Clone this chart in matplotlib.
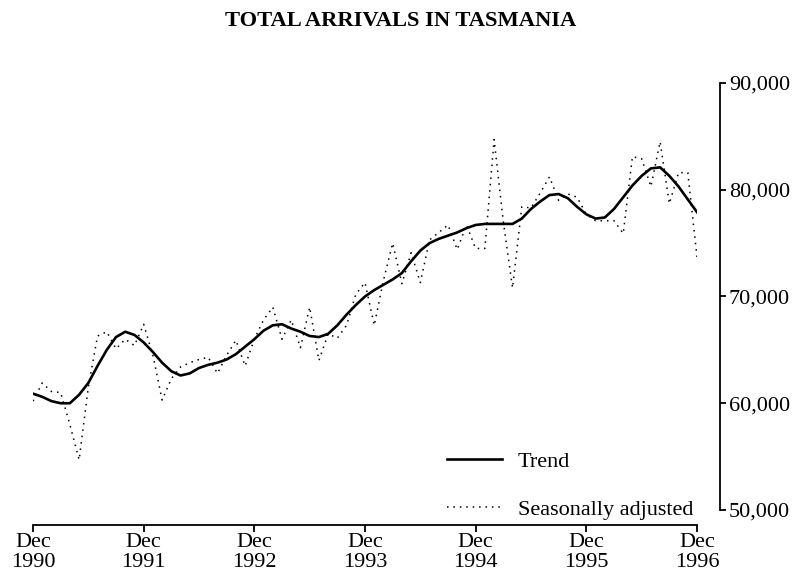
import matplotlib
matplotlib.use("Agg")
import matplotlib.pyplot as plt
import numpy as np

# Monthly data, Dec 1990 .. Dec 1996 (73 months)
months = np.arange(73)

trend = [
    60900, 60600, 60200, 60000, 60000, 60800, 61900, 63500, 65000, 66200,
    66700, 66400, 65700, 64800, 63800, 63000, 62600, 62800, 63300, 63600,
    63800, 64100, 64600, 65300, 66000, 66800, 67300, 67400, 67000, 66700,
    66300, 66200, 66500, 67300, 68300, 69200, 70000, 70600, 71100, 71600,
    72200, 73300, 74300, 75000, 75400, 75700, 76000, 76400, 76700, 76800,
    76800, 76800, 76800, 77300, 78200, 78900, 79500, 79600, 79200, 78400,
    77700, 77300, 77400, 78200, 79300, 80400, 81300, 82000, 82100, 81300,
    80300, 79100, 77900,
]

seas_adj = [
    60200, 61900, 61100, 61000, 58000, 54700, 61500, 66300, 66700, 65100,
    66000, 65400, 67400, 64500, 60300, 62300, 63400, 63800, 64100, 64300,
    62800, 64500, 65900, 63500, 66000, 67800, 69000, 66000, 67800, 65200,
    69000, 64000, 66500, 66100, 67300, 70200, 71300, 67300, 71500, 75000,
    71200, 74100, 71300, 75300, 76000, 76700, 74400, 76700, 74500, 74500,
    84700, 77000, 70800, 78400, 78300, 79700, 81200, 79000, 79600, 79300,
    77700, 77100, 77100, 77100, 75900, 83100, 82900, 80300, 84500, 78700,
    81600, 81600, 73700,
]

xtick_pos = [0, 12, 24, 36, 48, 60, 72]
xtick_labels = ["Dec\n1990", "Dec\n1991", "Dec\n1992", "Dec\n1993",
                "Dec\n1994", "Dec\n1995", "Dec\n1996"]
ytick_vals = [50000, 60000, 70000, 80000, 90000]
ytick_labels = ["50,000", "60,000", "70,000", "80,000", "90,000"]

plt.rcParams['font.family'] = ['Liberation Serif', 'DejaVu Serif']

W, H = 802, 585
PX = 0.72  # points per pixel at 100 dpi
fig = plt.figure(figsize=(W / 100, H / 100), dpi=100)
left, right = 33 / W, 697 / W
bottom, top = 1 - 510 / H, 1 - 83 / H
ax = fig.add_axes([left, bottom, right - left, top - bottom])

ax.plot(months, trend, color='black', lw=1.9, solid_joinstyle='round',
        label='Trend')
ax.plot(months, seas_adj, color='black', lw=1.1, linestyle=(0, (1, 3.2)),
        label='Seasonally adjusted')

ax.set_xlim(0, 72)
ax.set_ylim(50000, 90000)

for s in ['top', 'left']:
    ax.spines[s].set_visible(False)
ax.spines['right'].set_position(('outward', 23 * PX))
ax.spines['bottom'].set_position(('outward', 15 * PX))
ax.spines['right'].set_linewidth(1.3)
ax.spines['bottom'].set_linewidth(1.3)

ax.yaxis.tick_right()
ax.set_yticks(ytick_vals)
ax.set_yticklabels(ytick_labels)
ax.set_xticks(xtick_pos)
ax.set_xticklabels(xtick_labels, linespacing=1.12)
ax.tick_params(axis='y', direction='out', length=6 * PX, width=1.3, pad=2,
               labelsize=16)
ax.tick_params(axis='x', direction='out', length=7 * PX, width=1.3, pad=0.5,
               labelsize=16)

fs = 16
fpx = fs / PX
leg = ax.legend(loc='lower left', frameon=False, fontsize=fs,
                handlelength=55 / fpx, handletextpad=16 / fpx,
                labelspacing=1.25, borderpad=0.4, borderaxespad=0.5,
                bbox_to_anchor=((447 - 0.9 * fpx) / W, 1 - (520 + 0.9 * fpx) / H),
                bbox_transform=fig.transFigure)

fig.text(0.5, 1 - 21 / H, "TOTAL ARRIVALS IN TASMANIA", ha='center',
         va='center', fontsize=16.2, fontweight='bold')

fig.savefig("out.png", dpi=100)
